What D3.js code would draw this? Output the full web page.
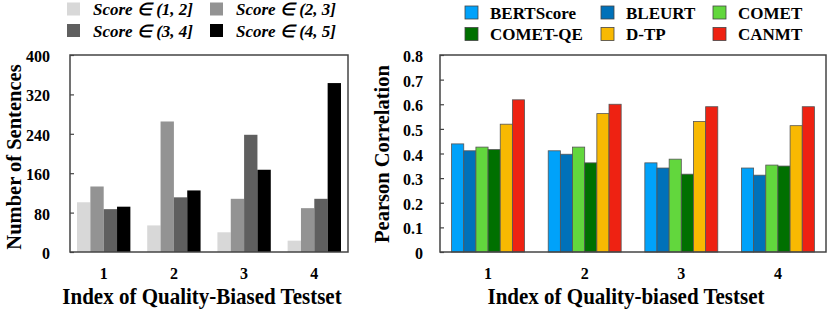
<!DOCTYPE html>
<html>
<head>
<meta charset="utf-8">
<script src="https://cdn.jsdelivr.net/npm/d3@7"></script>
<style>
  body { margin: 0; background: #fff; }
  svg text { font-family: "Liberation Serif", "Times New Roman", serif; font-weight: bold; fill: #000; }
</style>
</head>
<body>
<svg id="chart" width="830" height="312"></svg>
<script>
// data
var testsets = ["1", "2", "3", "4"]

var scoreBins = ["Score \u2208 (1, 2]", "Score \u2208 (2, 3]", "Score \u2208 (3, 4]", "Score \u2208 (4, 5]"]
var score12 = [101, 54, 40, 23]
var score23 = [133, 265, 108, 89]
var score34 = [87, 111, 238, 108]
var score45 = [92, 125, 167, 343]
var countTicks = [0, 80, 160, 240, 320, 400]

var metrics = ["BERTScore", "BLEURT", "COMET", "COMET-QE", "D-TP", "CANMT"]
var bertscore = [0.439, 0.411, 0.362, 0.341]
var bleurt = [0.411, 0.397, 0.341, 0.312]
var comet = [0.426, 0.426, 0.377, 0.353]
var cometQE = [0.416, 0.362, 0.316, 0.349]
var dtp = [0.519, 0.562, 0.530, 0.513]
var canmt = [0.618, 0.600, 0.590, 0.590]
var corrTicks = [0, 0.1, 0.2, 0.3, 0.4, 0.5, 0.6, 0.7, 0.8]

var grayColors = ["#d8d8d8", "#939393", "#5f5f5f", "#000000"]
var metricColors = ["#00a2fa", "#0071b9", "#62d73d", "#007000", "#f8b902", "#ee2212"]

var svg = d3.select("#chart")

// draws one grouped bar panel
function drawPanel(opt) {
    var g = svg.append("g")
    var x0 = d3.scaleBand().domain(testsets).range([opt.left, opt.right])
        .paddingInner(opt.padIn).paddingOuter(opt.padOut)
    var x1 = d3.scaleBand().domain(opt.keys).range([0, x0.bandwidth()])
    var y = d3.scaleLinear().domain(opt.domain).range([opt.bottom, opt.top])

    var rows = testsets.map(function(t, i){
        return opt.keys.map(function(k, j){
            return {set: t, key: k, value: opt.series[j][i], color: opt.colors[j]}
        })
    })

    g.selectAll("g.grp").data(rows).enter().append("g")
        .attr("transform", function(d){ return "translate(" + x0(d[0].set) + ",0)" })
        .selectAll("rect").data(function(d){ return d }).enter().append("rect")
        .attr("x", function(d){ return x1(d.key) })
        .attr("y", function(d){ return y(d.value) })
        .attr("width", x1.bandwidth())
        .attr("height", function(d){ return y(0) - y(d.value) })
        .attr("fill", function(d){ return d.color })
        .attr("stroke", opt.barStroke)
        .attr("stroke-width", 0.8)

    // y axis, ticks pointing inward, labels on the left
    var yAxis = d3.axisLeft(y).tickValues(opt.ticks).tickSize(-4).tickPadding(opt.labelGap)
        .tickFormat(opt.fmt)
    var ya = g.append("g").attr("transform", "translate(" + opt.left + ",0)").call(yAxis)
    ya.select(".domain").remove()
    ya.selectAll("line").attr("stroke", "#444").attr("stroke-width", 1.2)
    ya.selectAll("text").attr("font-size", "16px").attr("dy", "6.5px")
        .style("font-family", "Liberation Serif").style("font-weight", "bold")

    // x axis labels
    var xAxis = d3.axisBottom(x0).tickSize(0).tickPadding(0)
    var xa = g.append("g").attr("transform", "translate(0," + opt.bottom + ")").call(xAxis)
    xa.select(".domain").remove()
    xa.selectAll("text").attr("font-size", "16px").attr("dy", null).attr("y", 27)
        .style("font-family", "Liberation Serif").style("font-weight", "bold")

    // frame
    g.append("rect").attr("x", opt.left).attr("y", opt.top)
        .attr("width", opt.right - opt.left).attr("height", opt.bottom - opt.top)
        .attr("fill", "none").attr("stroke", "#444").attr("stroke-width", 1.5)

    g.append("text").attr("transform", "translate(" + ((opt.left + opt.right) / 2 - 7) + ",304) scale(1,1.08)")
        .attr("text-anchor", "middle").attr("font-size", "21px").text(opt.xTitle)

    g.append("text").attr("transform", "translate(" + opt.yTitleX + "," + opt.yTitleY + ") rotate(-90)")
        .attr("text-anchor", "middle").attr("font-size", "20.5px").text(opt.yTitle)

    // legend
    var leg = g.selectAll("g.leg").data(opt.keys).enter().append("g")
        .attr("transform", function(d, i){
            return "translate(" + opt.legX[i % opt.legCols] + "," + opt.legY[Math.floor(i / opt.legCols)] + ")"
        })
    leg.append("rect").attr("x", 0).attr("y", -6.5).attr("width", 13).attr("height", 13)
        .attr("fill", function(d, i){ return opt.colors[i] })
        .attr("stroke", opt.legStroke).attr("stroke-width", 0.8)
    leg.append("text").attr("x", opt.legTextGap).attr("y", 6)
        .attr("font-size", "17px").attr("font-style", opt.legItalic ? "italic" : "normal")
        .text(function(d){ return d })
}

drawPanel({
    left: 70, right: 348, top: 55, bottom: 252,
    padIn: 0.24, padOut: 0.1,
    keys: scoreBins, series: [score12, score23, score34, score45], colors: grayColors,
    domain: [0, 400], ticks: countTicks, fmt: d3.format("d"), labelGap: 20,
    barStroke: "none",
    xTitle: "Index of Quality-Biased Testset", yTitle: "Number of Sentences",
    yTitleX: 21, yTitleY: 157,
    legCols: 2, legX: [67, 210], legY: [9, 30.5], legTextGap: 26, legItalic: true, legStroke: "none"
})

drawPanel({
    left: 440, right: 826, top: 55, bottom: 252,
    padIn: 0.245, padOut: 0.12,
    keys: metrics, series: [bertscore, bleurt, comet, cometQE, dtp, canmt], colors: metricColors,
    domain: [0, 0.8], ticks: corrTicks, fmt: function(d){ return d === 0 ? "0" : d3.format(".1f")(d) }, labelGap: 17,
    barStroke: "#555",
    xTitle: "Index of Quality-biased Testset", yTitle: "Pearson Correlation",
    yTitleX: 389, yTitleY: 154,
    legCols: 3, legX: [465, 601, 713], legY: [12.5, 34], legTextGap: 25, legItalic: false, legStroke: "#444"
})
</script>
</body>
</html>
